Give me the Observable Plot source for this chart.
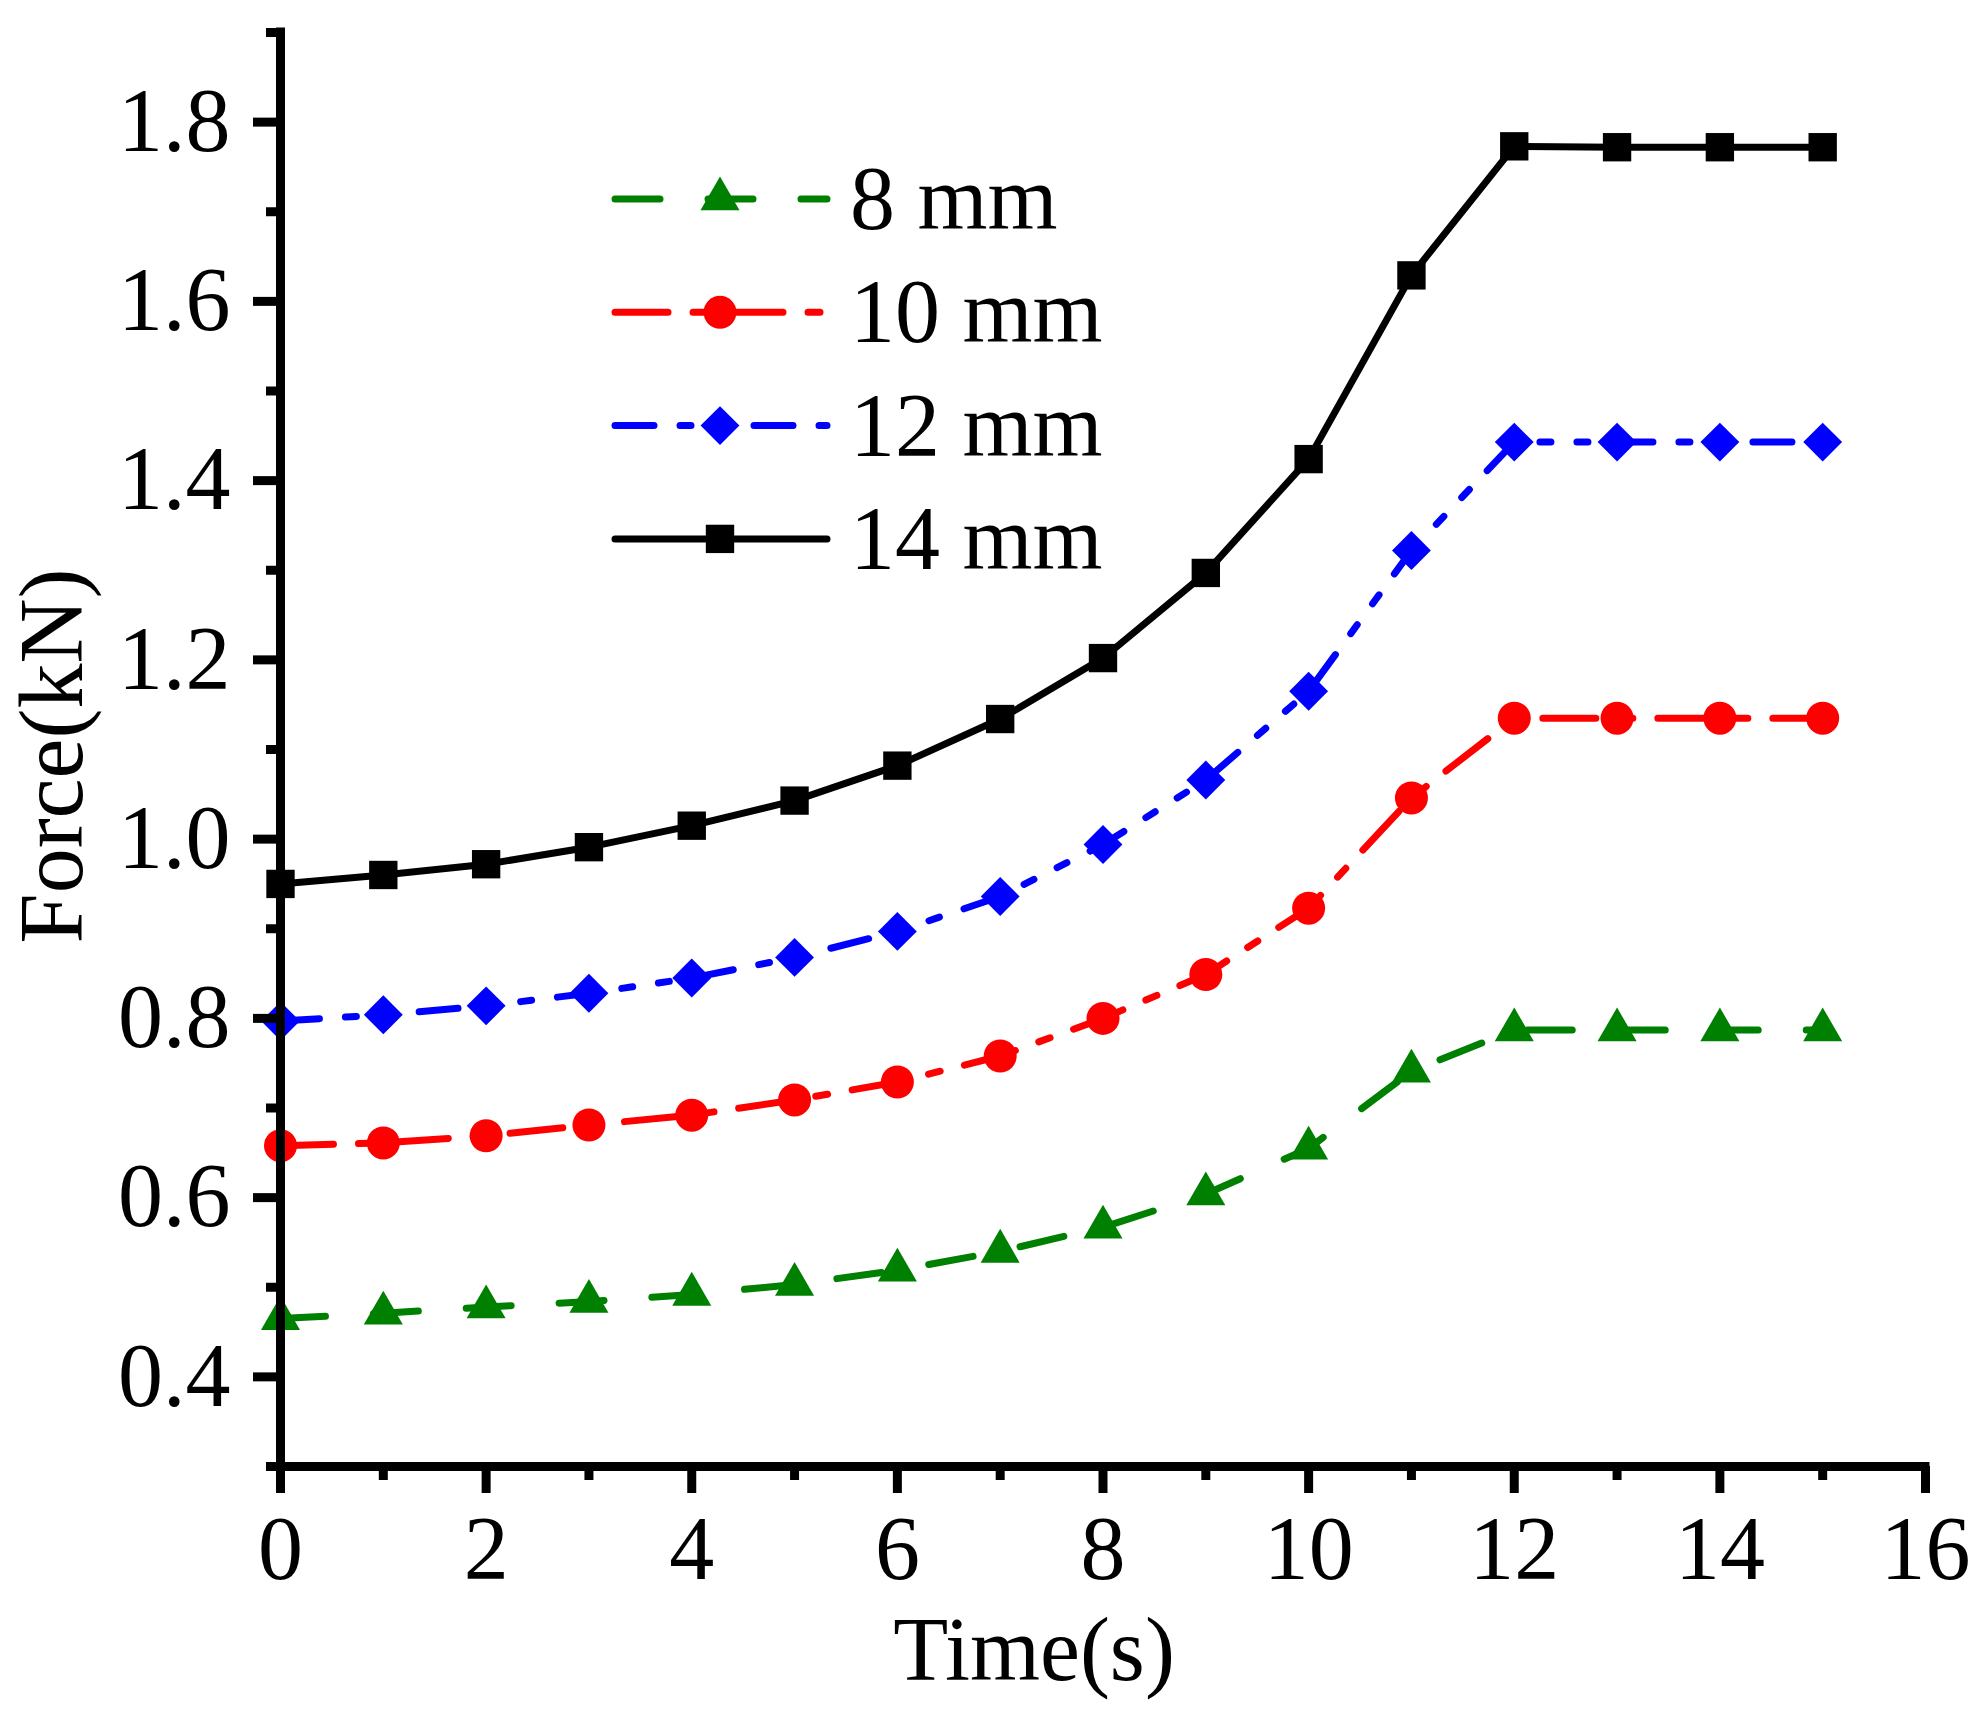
<!DOCTYPE html>
<html><head><meta charset="utf-8">
<script src="https://cdn.jsdelivr.net/npm/d3@7"></script>
<script src="https://cdn.jsdelivr.net/npm/@observablehq/plot@0.6"></script>
<style>
html,body{margin:0;padding:0;background:#fff;}
#wrap{position:relative;width:1986px;height:1717px;}
svg{display:block;}
</style></head><body>
<div id="wrap"></div>
<script>
const time = [0,1,2,3,4,5,6,7,8,9,10,11,12,13,14,15];
const seriesNames = ["8 mm","10 mm","12 mm","14 mm"];
const f8  = [0.465,0.471,0.478,0.484,0.492,0.503,0.519,0.540,0.567,0.604,0.655,0.741,0.787,0.787,0.787,0.787];
const f10 = [0.658,0.661,0.669,0.681,0.692,0.709,0.729,0.758,0.800,0.849,0.923,1.046,1.135,1.135,1.135,1.135];
const f12 = [0.797,0.804,0.814,0.828,0.845,0.868,0.897,0.936,0.994,1.066,1.165,1.322,1.443,1.443,1.443,1.443];
const f14 = [0.950,0.960,0.972,0.991,1.015,1.043,1.082,1.134,1.202,1.297,1.424,1.629,1.773,1.772,1.772,1.772];
const xTicks = [0,2,4,6,8,10,12,14,16];
const xMinor = [1,3,5,7,9,11,13,15];
const yTicks = [0.4,0.6,0.8,1.0,1.2,1.4,1.6,1.8];
const yMinor = [0.3,0.5,0.7,0.9,1.1,1.3,1.5,1.7,1.9];
const xLabel = "Time(s)";
const yLabel = "Force(kN)";

const colors  = ["#008000","#ff0000","#0000ff","#000000"];
const symbols = ["triangle","circle","diamond2","square"];
const d3syms  = [d3.symbolTriangle,d3.symbolCircle,d3.symbolDiamond2,d3.symbolSquare];
const dashes  = ["45,48","53,25,12,25","39,26,11,26,11,26",null];
const radii   = [14.5,16.5,17.5,16];

const values = [f8,f10,f12,f14];
const table = [];
values.forEach((arr,si)=>arr.forEach((v,i)=>table.push({t:time[i], f:v, s:seriesNames[si]})));

const FONT = "Liberation Serif, Times New Roman, serif";
const W = 1986, H = 1717;
const mL = 280, mR = 61, mT = 32, mB = 251;

const marks = [];
seriesNames.forEach((name,si)=>{
  const d = table.filter(r=>r.s===name);
  marks.push(Plot.line(d,{x:"t",y:"f",stroke:colors[si],strokeWidth:7,
    strokeDasharray:dashes[si]||undefined,strokeLinecap:"round",strokeLinejoin:"round"}));
});
seriesNames.forEach((name,si)=>{
  const d = table.filter(r=>r.s===name);
  marks.push(Plot.dot(d,{x:"t",y:"f",fill:colors[si],symbol:symbols[si],r:radii[si]}));
});
marks.push(
  Plot.axisY(yTicks,{tickSize:27,tickPadding:23,strokeWidth:9,tickFormat:d3.format(".1f"),
    fontSize:90,fontFamily:FONT,label:null,fill:"#000"}),
  Plot.axisY(yMinor,{tickSize:14,strokeWidth:9,tickFormat:()=>"",label:null}),
  Plot.axisX(xTicks,{tickSize:27,tickPadding:22,strokeWidth:9,tickFormat:d3.format("d"),
    fontSize:90,fontFamily:FONT,label:null,fill:"#000"}),
  Plot.axisX(xMinor,{tickSize:14,strokeWidth:9,tickFormat:()=>"",label:null}),
  Plot.ruleX([0],{strokeWidth:9,strokeLinecap:"square"}),
  Plot.ruleY([0.3],{strokeWidth:9,strokeLinecap:"square"})
);

const chart = Plot.plot({
  width:W, height:H,
  marginLeft:mL, marginRight:mR, marginTop:mT, marginBottom:mB,
  style:{fontFamily:FONT, fontSize:"90px", background:"#fff", color:"#000", overflow:"visible"},
  x:{domain:[0,16], label:null},
  y:{domain:[0.3,1.9], label:null},
  marks
});
document.getElementById("wrap").appendChild(chart);

// titles and legend (layout elements)
const svg = d3.select(chart);
svg.append("text").text(xLabel)
  .attr("x",1034).attr("y",1680).attr("text-anchor","middle")
  .attr("font-family",FONT).attr("font-size",90).attr("fill","#000");
svg.append("text").text(yLabel)
  .attr("transform","translate(82,756) rotate(-90)").attr("text-anchor","middle")
  .attr("font-family",FONT).attr("font-size",90).attr("fill","#000");

const lg = svg.append("g");
seriesNames.forEach((name,si)=>{
  const cy = 199 + si*113.3;
  const g = lg.append("g");
  const ln = g.append("line").attr("x1",615).attr("x2",827).attr("y1",cy).attr("y2",cy)
    .attr("stroke",colors[si]).attr("stroke-width",7).attr("stroke-linecap","round");
  if (dashes[si]) ln.attr("stroke-dasharray",dashes[si]);
  g.append("path").attr("d",d3.symbol(d3syms[si], radii[si]*radii[si]*Math.PI)())
    .attr("transform",`translate(720,${cy})`).attr("fill",colors[si]);
  g.append("text").text(name).attr("x",850).attr("y",cy+30).attr("text-anchor","start")
    .attr("font-family",FONT).attr("font-size",90).attr("fill","#000");
});
</script>
</body></html>
